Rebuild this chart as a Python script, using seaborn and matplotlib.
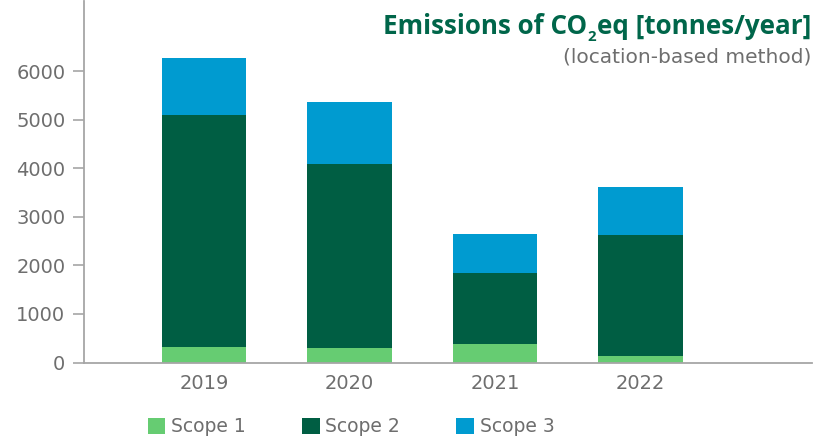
import matplotlib
matplotlib.use("Agg")
import matplotlib.pyplot as plt
import seaborn as sns
import pandas as pd
import numpy as np
from matplotlib.patches import Patch

years = ["2019", "2020", "2021", "2022"]
scope1 = [320, 300, 380, 130]
scope2 = [4780, 3790, 1460, 2495]
scope3 = [1180, 1280, 800, 990]
series_names = ["Scope 1", "Scope 2", "Scope 3"]
colors = ["#66CC72", "#005E43", "#009BD0"]
yticks = [0, 1000, 2000, 3000, 4000, 5000, 6000]
title_parts = ["Emissions of CO", "2", "eq [tonnes/year]"]
subtitle = "(location-based method)"

sns.set_theme(style="white")
FONT = ["DejaVu Sans"]
TFONT = ["Open Sans", "DejaVu Sans"]
plt.rcParams["font.family"] = FONT
gray_txt = "#6E6E6E"
gray_ax = "#A6A6A6"
title_col = "#00664A"

df = pd.DataFrame({"year": years, "s1": scope1, "s2": scope2, "s3": scope3})
df["c1"] = df["s1"]
df["c2"] = df["s1"] + df["s2"]
df["c3"] = df["c2"] + df["s3"]

W, H = 816, 438
fig = plt.figure(figsize=(W / 100, H / 100), dpi=100)
ax = fig.add_axes([84 / W, 1 - 362.5 / H, (812 - 84) / W, 362.5 / H - 0.002])

for col, c in zip(["c3", "c2", "c1"], colors[::-1]):
    sns.barplot(data=df, x="year", y=col, color=c, width=0.58, ax=ax,
                saturation=1, edgecolor="none", linewidth=0)

ax.set_xlim(-0.825, 4.18)
ax.set_ylim(0, 7450)
ax.set_yticks(yticks)
ax.set_yticklabels([str(v) for v in yticks])
ax.set_xlabel("")
ax.set_ylabel("")
for s in ["top", "right"]:
    ax.spines[s].set_visible(False)
for s in ["left", "bottom"]:
    ax.spines[s].set_color(gray_ax)
    ax.spines[s].set_linewidth(1.3)
ax.tick_params(axis="y", which="major", direction="out", length=8, width=1.2,
               color=gray_ax, labelcolor=gray_txt, labelsize=14, pad=5.5, left=True)
ax.tick_params(axis="x", length=0, labelcolor=gray_txt, labelsize=14, pad=8)

# title built from pieces so that the subscript sits lower
fig.canvas.draw()
r = fig.canvas.get_renderer()
base_y = 1 - 34 / H
tsize = 18.7
t3 = fig.text(811 / W, base_y, title_parts[2], ha="right", va="baseline",
              fontsize=tsize, fontweight="bold", color=title_col, family=TFONT)
x3 = t3.get_window_extent(r).x0
t2 = fig.text((x3 - 0.5) / W, base_y - 7 / H, title_parts[1], ha="right", va="baseline",
              fontsize=tsize * 0.58, fontweight="bold", color=title_col, family=TFONT)
x2 = t2.get_window_extent(r).x0
t1 = fig.text((x2 - 0.5) / W, base_y, title_parts[0], ha="right", va="baseline",
              fontsize=tsize, fontweight="bold", color=title_col, family=TFONT)

fig.text(811 / W, 1 - 57 / H, subtitle, ha="right", va="center",
         fontsize=14.5, color=gray_txt, family=FONT)

handles = [Patch(facecolor=c, edgecolor="none", label=n) for c, n in zip(colors, series_names)]
leg = fig.legend(handles=handles, loc="center left", bbox_to_anchor=(140 / W, 1 - 427 / H),
                 ncol=3, frameon=False, fontsize=13.5, handlelength=0.95, handleheight=0.95,
                 handletextpad=0.3, columnspacing=3.0, borderaxespad=0)
for t in leg.get_texts():
    t.set_color(gray_txt)

fig.savefig("out.png", dpi=100)
